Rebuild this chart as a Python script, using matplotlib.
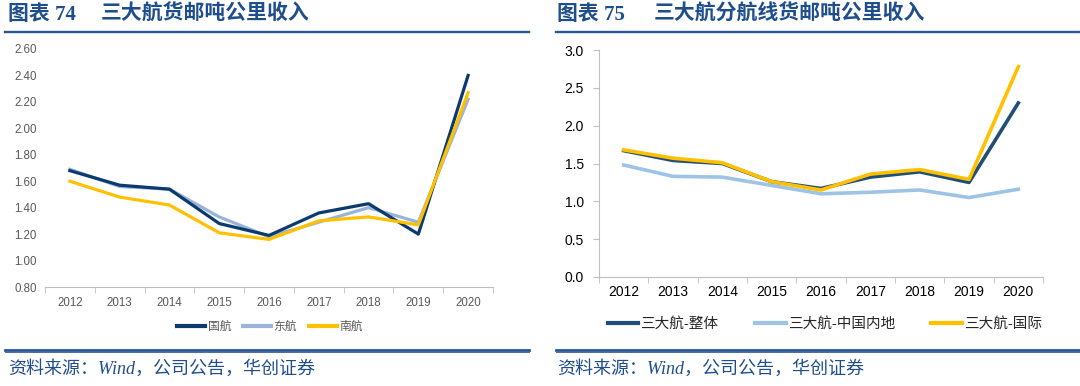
import matplotlib
matplotlib.use("Agg")
import matplotlib.pyplot as plt
from matplotlib.lines import Line2D

plt.rcParams["font.family"] = ["Liberation Sans", "Noto Sans CJK SC", "DejaVu Sans"]

years = ["2012", "2013", "2014", "2015", "2016", "2017", "2018", "2019", "2020"]

# 图表74
air_china = [1.68, 1.57, 1.54, 1.28, 1.19, 1.36, 1.43, 1.20, 2.40]
china_eastern = [1.69, 1.56, 1.54, 1.33, 1.18, 1.29, 1.40, 1.29, 2.22]
china_southern = [1.60, 1.48, 1.42, 1.21, 1.16, 1.30, 1.33, 1.27, 2.27]
left_names = ["国航", "东航", "南航"]

# 图表75
overall = [1.67, 1.54, 1.50, 1.26, 1.17, 1.32, 1.39, 1.25, 2.30]
domestic = [1.48, 1.33, 1.32, 1.21, 1.10, 1.12, 1.15, 1.05, 1.16]
international = [1.68, 1.57, 1.51, 1.26, 1.15, 1.36, 1.42, 1.29, 2.78]
right_names = ["三大航-整体", "三大航-中国内地", "三大航-国际"]

W, H = 1080, 386
fig = plt.figure(figsize=(W / 100, H / 100), dpi=100)

TITLE_BLUE = "#1f4e8c"
LINE_BLUE = "#2a5597"
SERIF = ["Liberation Serif", "Noto Sans CJK SC"]


def px_axes(x0, y0, x1, y1):
    return fig.add_axes([x0 / W, 1 - y1 / H, (x1 - x0) / W, (y1 - y0) / H])


def fig_line(x0, x1, y, lw, color=LINE_BLUE):
    fig.add_artist(Line2D([x0 / W, x1 / W], [1 - y / H, 1 - y / H],
                          color=color, lw=lw, transform=fig.transFigure))


def fx(px):
    return px / W


def fy(px):
    return 1 - px / H


def category_axis(ax, n):
    ax.set_xlim(-0.5, n - 0.5)
    ax.set_xticks(range(n))
    ax.set_xticks([i - 0.5 for i in range(n + 1)], minor=True)
    ax.tick_params(axis="x", which="major", length=0)
    ax.tick_params(axis="x", which="minor", length=4, direction="out", color="#bfbfbf")


# ---- left panel ----
ax1 = px_axes(45, 49, 493, 287)
x = range(len(years))
ax1.plot(x, air_china, color="#0b3a6f", lw=2.3, label=left_names[0], zorder=3)
ax1.plot(x, china_eastern, color="#98b4d8", lw=2.3, label=left_names[1], zorder=2)
ax1.plot(x, china_southern, color="#ffc000", lw=2.3, label=left_names[2], zorder=4)
ax1.set_ylim(0.8, 2.6)
ax1.set_yticks([0.8 + 0.2 * i for i in range(10)])
ax1.set_yticklabels([f"{0.8 + 0.2 * i:.2f}" for i in range(10)])
category_axis(ax1, len(years))
ax1.set_xticklabels(years)
for s in ["top", "right", "left"]:
    ax1.spines[s].set_visible(False)
ax1.spines["bottom"].set_color("#bfbfbf")
ax1.tick_params(axis="y", length=0, pad=6)
ax1.tick_params(axis="both", labelsize=8.3, labelcolor="#595959")
ax1.tick_params(axis="x", which="major", pad=7)
leg1 = ax1.legend(loc="center", ncol=3, frameon=False,
                  fontsize=8.5, labelcolor="#595959", handlelength=2.4,
                  handletextpad=0.2, columnspacing=1.0,
                  bbox_to_anchor=(fx(270), fy(327)), bbox_transform=fig.transFigure)
for h in leg1.legend_handles:
    h.set_linewidth(3)

# ---- right panel ----
ax2 = px_axes(599, 50, 1043, 277)
ax2.plot(x, domestic, color="#9dc3e6", lw=2.6, label=right_names[1], zorder=2)
ax2.plot(x, overall, color="#1f4e79", lw=2.6, label=right_names[0], zorder=3)
ax2.plot(x, international, color="#ffc000", lw=2.6, label=right_names[2], zorder=4)
ax2.set_ylim(0, 3.0)
ax2.set_yticks([0.5 * i for i in range(7)])
ax2.set_yticklabels([f"{0.5 * i:.1f}" for i in range(7)])
category_axis(ax2, len(years))
ax2.set_xticklabels(years)
for s in ["top", "right"]:
    ax2.spines[s].set_visible(False)
ax2.spines["bottom"].set_color("#bfbfbf")
ax2.spines["left"].set_color("#bfbfbf")
ax2.tick_params(axis="y", length=4, color="#bfbfbf", pad=7)
ax2.tick_params(axis="both", labelsize=10, labelcolor="#000000")
ax2.tick_params(axis="x", which="major", pad=6)
handles, labels = ax2.get_legend_handles_labels()
order = [1, 0, 2]
leg2 = ax2.legend([handles[i] for i in order], [labels[i] for i in order],
                  loc="center", ncol=3, frameon=False, fontsize=10.5,
                  labelcolor="#262626", handlelength=2.1, handletextpad=0.15,
                  columnspacing=2.5,
                  bbox_to_anchor=(fx(825), fy(324)), bbox_transform=fig.transFigure)
for h in leg2.legend_handles:
    h.set_linewidth(3)

# ---- titles, rules and sources ----
title_kw = dict(color=TITLE_BLUE, fontsize=15, fontweight="bold",
                va="center", ha="left", family=SERIF)
fig.text(fx(8), fy(15), "图表 74", **title_kw)
fig.text(fx(101), fy(15), "三大航货邮吨公里收入", **title_kw)
fig.text(fx(557), fy(15), "图表 75", **title_kw)
fig.text(fx(654), fy(15), "三大航分航线货邮吨公里收入", **title_kw)
fig_line(5, 529, 32, 1.7)
fig_line(556, 1080, 32, 1.7)
fig_line(5, 529, 350, 2.0)
fig_line(5, 529, 352, 0.6)
fig_line(556, 1080, 350, 2.0)
fig_line(556, 1080, 352, 0.6)
src_kw = dict(color=TITLE_BLUE, fontsize=13, style="italic",
              va="center", ha="left", family=SERIF)
fig.text(fx(8), fy(369), "资料来源：Wind，公司公告，华创证券", **src_kw)
fig.text(fx(557), fy(369), "资料来源：Wind，公司公告，华创证券", **src_kw)

fig.savefig("out.png", dpi=100)
